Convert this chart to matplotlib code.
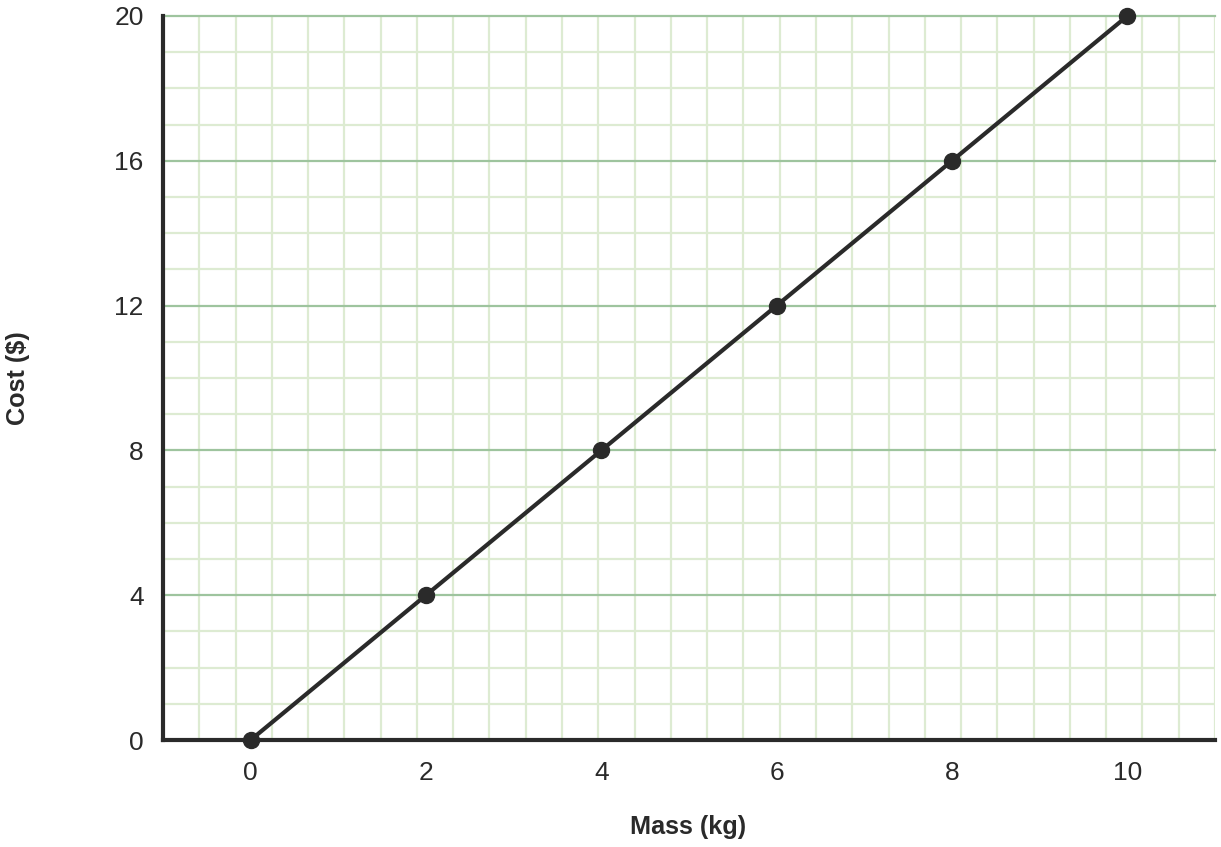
import matplotlib
matplotlib.use("Agg")
import matplotlib.pyplot as plt
from matplotlib import font_manager as fm
import numpy as np

plt.rcParams['font.family'] = ['Liberation Sans', 'DejaVu Sans']

mass = [0, 2, 4, 6, 8, 10]
cost = [0, 4, 8, 12, 16, 20]
x_ticks = [0, 2, 4, 6, 8, 10]
y_ticks = [0, 4, 8, 12, 16, 20]

bold_prop = fm.FontProperties(family=['Liberation Sans', 'DejaVu Sans'],
                              weight='bold', size=18.2)

fig = plt.figure(figsize=(12.21, 8.47), dpi=100)
ax = fig.add_axes([163/1221, 107/847, (1215-163)/1221, (740-16)/847])
ax.set_xlim(-1, 11)
ax.set_ylim(0, 20)

minor_c = '#ddebd2'
major_c = '#9ec49e'

# graph-paper background: square cells of one y-unit
cell = 12/29
for xv in np.arange(-1 + cell, 11.001, cell):
    ax.axvline(xv, color=minor_c, lw=1.6, zorder=1)
for yv in range(1, 21):
    if yv % 4 == 0:
        continue
    ax.axhline(yv, color=minor_c, lw=1.6, zorder=1)
for yv in y_ticks[1:]:
    ax.axhline(yv, color=major_c, lw=1.6, zorder=2, clip_on=False)

ax.plot(mass, cost, color='#2a2a2a', lw=3, marker='o', markersize=11.5,
        zorder=5, clip_on=False)

for s in ['top', 'right']:
    ax.spines[s].set_visible(False)
for s in ['left', 'bottom']:
    ax.spines[s].set_linewidth(3)
    ax.spines[s].set_color('#2a2a2a')
    ax.spines[s].set_zorder(6)

ax.set_xticks(x_ticks)
ax.set_yticks(y_ticks)
ax.set_xticklabels([str(v) for v in x_ticks])
ax.set_yticklabels([str(v) for v in y_ticks])
ax.tick_params(axis='both', length=0, labelsize=19, colors='#2a2a2a')
ax.tick_params(axis='x', pad=15)
ax.tick_params(axis='y', pad=14)

fig.text(688/1221, 1 - 827/847, 'Mass (kg)', ha='center', va='center',
         fontproperties=bold_prop, color='#2a2a2a')
fig.text(18/1221, 1 - 378/847, 'Cost ($)', ha='center', va='center',
         fontproperties=bold_prop, color='#2a2a2a', rotation=90)

fig.savefig('out.png', dpi=100)
